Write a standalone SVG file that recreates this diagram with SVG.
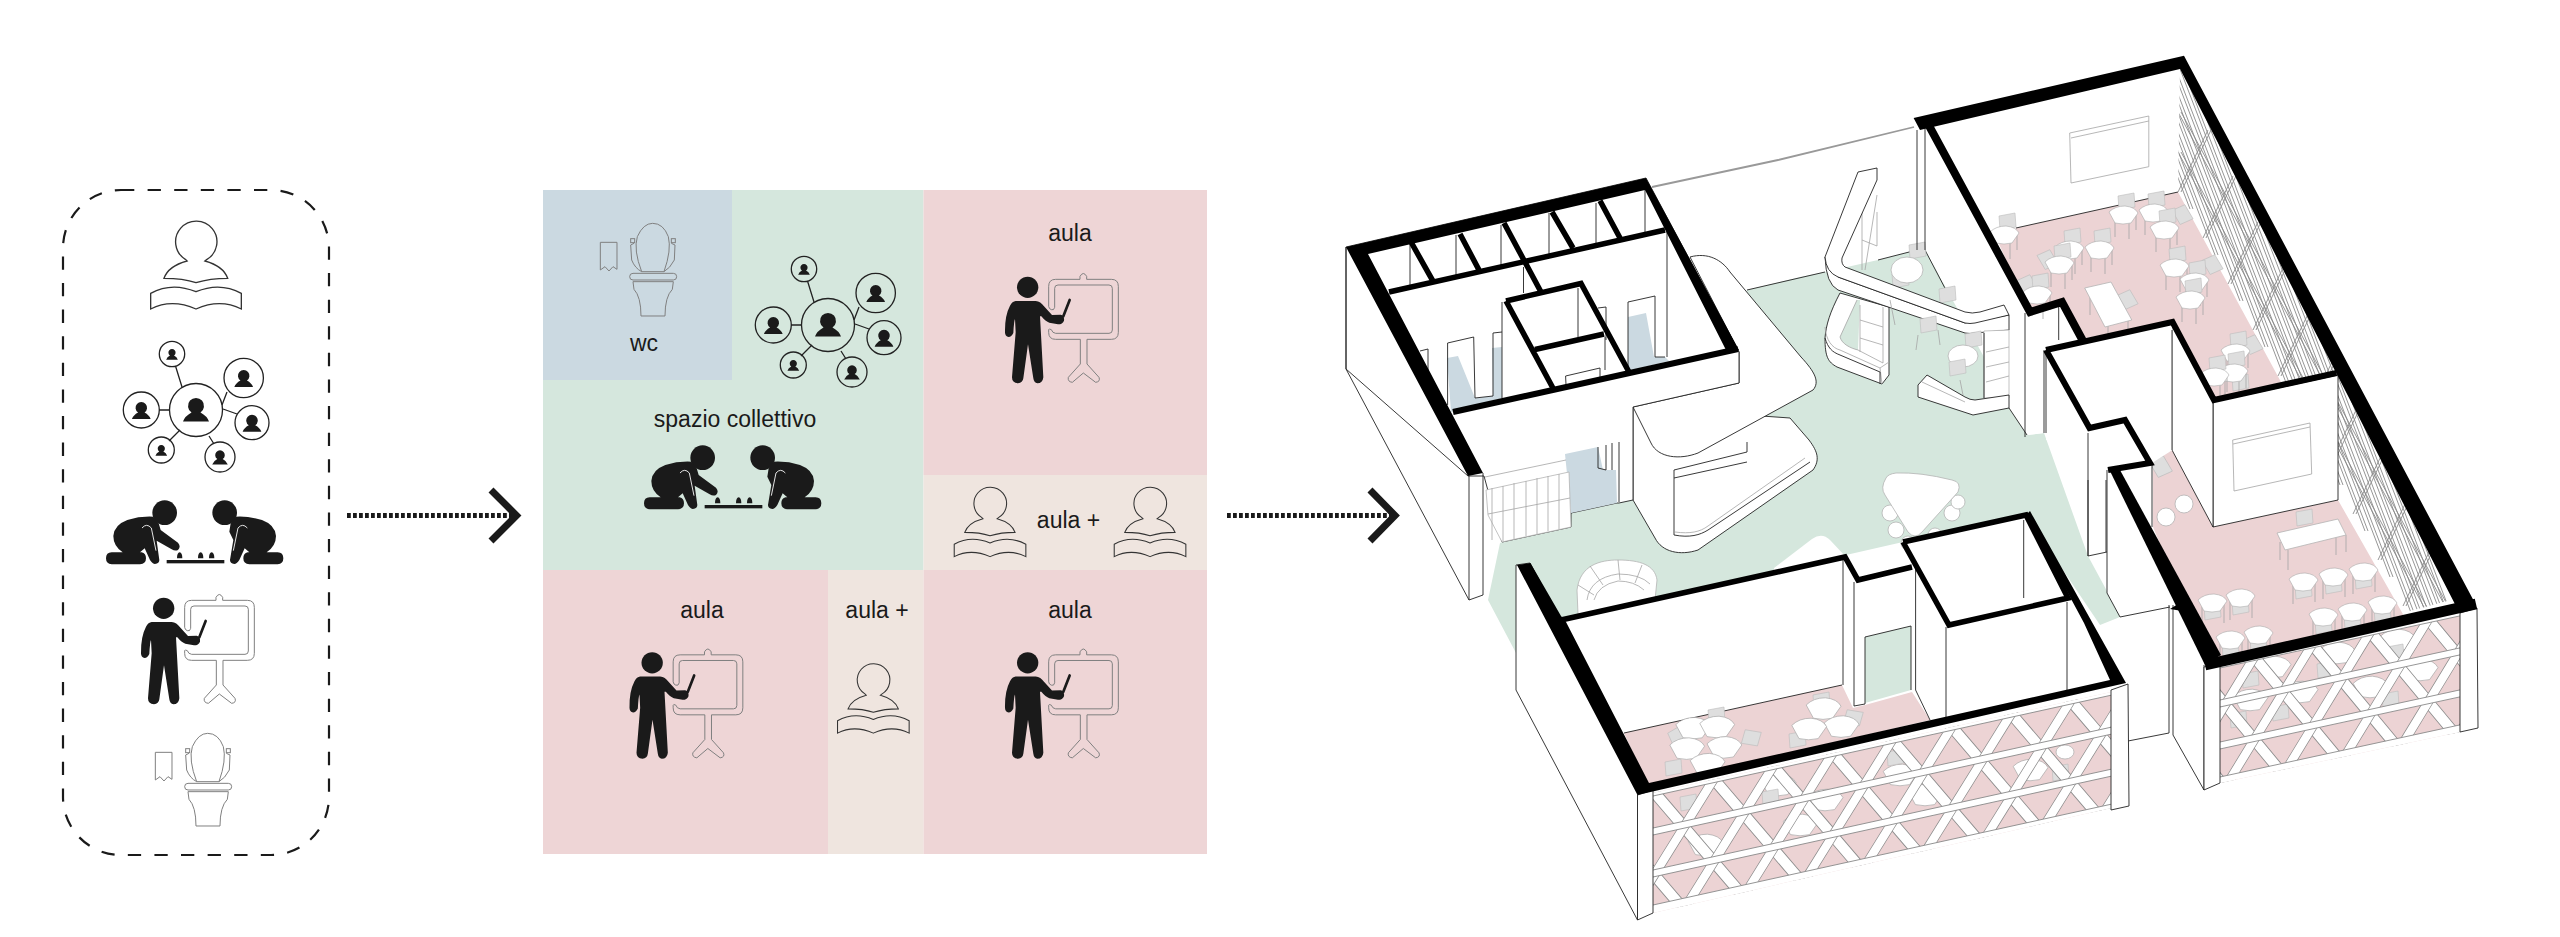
<svg xmlns="http://www.w3.org/2000/svg" width="2560" height="937" viewBox="0 0 2560 937">
<style>
text{font-family:"Liberation Sans",Arial,sans-serif;font-size:23px;fill:#1a1a1a;text-anchor:middle}
.l{fill:none;stroke:#222;stroke-width:.9}
.lf{fill:#fff;stroke:#222;stroke-width:.9}
.g{fill:none;stroke:#a4a4a4;stroke-width:.8}
.gf{fill:#fff;stroke:#b4b4b4;stroke-width:.8}
.k{fill:none;stroke:#000;stroke-linejoin:miter}
.kf{fill:#000}
.p{fill:#ecd3d4}
.gr{fill:#d5e7dd}
.b{fill:#cbd9e1}
.ic{fill:none;stroke:#333;stroke-width:4}
.icg{fill:none;stroke:#808080;stroke-width:3}
.net{fill:none;stroke:#222;stroke-width:1.3}
.sk{fill:none;stroke:#8e8e8e;stroke-width:10.800}
.sw{fill:none;stroke:#fff;stroke-width:9.200}
.rail{fill:#fff;stroke:#8e8e8e;stroke-width:.9}
.wl{fill:none;stroke:#8a8a8a;stroke-width:.9}
</style>
<defs>
<clipPath id="cf1"><polygon points="1653,793 2111,692 2111,808 1653,913"/></clipPath>
<clipPath id="cf2"><polygon points="2220,665 2460,613 2460,732 2220,783"/></clipPath>
<clipPath id="cw"><polygon points="2180,69 2178,192 2403,613 2458,598"/></clipPath>
<path id="latA" d="M-121,-5l93.6,130M-61.500,-5l93.6,130M-2,-5l93.6,130M57.500,-5l93.6,130M117,-5l93.6,130M176.500,-5l93.6,130M236,-5l93.6,130M295.500,-5l93.6,130M355,-5l93.6,130M414.500,-5l93.6,130"/>
<path id="latB" d="M64,-5l-93.6,130M123.500,-5l-93.6,130M183,-5l-93.6,130M242.500,-5l-93.6,130M302,-5l-93.6,130M361.500,-5l-93.6,130M421,-5l-93.6,130M480.500,-5l-93.6,130M540,-5l-93.6,130"/>
<g id="lattice"><use href="#latA" class="sk"/><use href="#latA" class="sw"/><use href="#latB" class="sk"/><use href="#latB" class="sw"/>
<rect class="rail" x="-60" y="-2" width="600" height="5"/><rect class="rail" x="-60" y="35" width="600" height="7"/><rect class="rail" x="-60" y="77" width="600" height="7"/><rect class="rail" x="-60" y="112" width="600" height="10"/></g>
<path id="cr" d="M-8,-8L8,-11L9,3L-7,6Z" fill="#dedede" stroke="#bcbcbc" stroke-width=".6"/>
<path id="bl" d="M-14,-3Q-8,-9 2,-9Q12,-8 15,-2L8,8Q0,10-8,8Z" fill="#fff" stroke="#aaa" stroke-width=".6"/>
<g id="st"><use href="#cr" x="3" y="-11"/><path class="g" d="M-8,6v16M6,6v18M13,0v15"/><use href="#bl"/></g>
<g id="sb"><path class="g" d="M-10,4v18M12,2v18"/><use href="#cr" y="11"/><use href="#bl"/></g>
<path id="pn" fill="#1a1a1a" d="M-13,12.500Q-11,7-4.500,3.500A8,8 0 1 1 4.500,3.500Q11,7 13,12.500Z"/>

<g id="reader" transform="translate(40,170) scale(.33333)">
<path class="ic" d="M436,268A62,62 0 1 1 500,269L495,273Q550,288 563,325Q510,325 468,338Q430,325 372,325Q385,288 441,273Z"/>
<path class="ic" d="M332,370Q395,335 468,365Q540,335 604,370L604,417Q540,385 468,417Q395,385 332,417Z"/>
</g>
<g id="network">
<path class="net" d="M175.500,366L182,387M222,405L227,392M223,409L237,414M209,436L214,444M180,430L169,441M169.500,410L159,410"/>
<circle class="net" cx="196" cy="410" r="26.500"/><circle class="net" cx="172" cy="354" r="12.700"/><circle class="net" cx="243.700" cy="378" r="19.700"/><circle class="net" cx="252" cy="422.700" r="17"/><circle class="net" cx="220" cy="457" r="15"/><circle class="net" cx="161.300" cy="450" r="13"/><circle class="net" cx="141.300" cy="410" r="18"/>
<use href="#pn" transform="translate(196,409)"/>
<use href="#pn" transform="translate(172,354) scale(.45)"/>
<use href="#pn" transform="translate(243.700,378) scale(.72)"/>
<use href="#pn" transform="translate(252,422.700) scale(.72)"/>
<use href="#pn" transform="translate(220,457) scale(.6)"/>
<use href="#pn" transform="translate(161.300,450) scale(.45)"/>
<use href="#pn" transform="translate(141.300,410) scale(.72)"/>
</g>
<g id="players" transform="translate(40,520) scale(.33333)" fill="#1a1a1a">
<circle cx="374" cy="-22" r="37"/><circle cx="554" cy="-22" r="37"/>
<path d="M220,48Q222,15 262,0Q300,-12 340,-10L356,10L362,30L414,68Q424,80 414,90Q405,94 395,88L350,62L358,120Q358,130 345,132Q338,132 330,120L314,85L300,97L305,97Q318,100 318,115Q318,132 300,133L215,133Q198,132 198,115Q198,97 215,97L248,97Q220,78 220,48Z"/>
<path transform="translate(928,0) scale(-1,1)" d="M220,48Q222,15 262,0Q300,-12 340,-10L356,10L360,35L348,60L358,120Q358,130 345,132Q338,132 330,120L314,85L300,97L305,97Q318,100 318,115Q318,132 300,133L215,133Q198,132 198,115Q198,97 215,97L248,97Q220,78 220,48Z"/>
<path d="M306,24Q320,8 334,24L348,92" fill="none" stroke="#e4e4e4" stroke-width="3"/>
<path d="M622,24Q608,8 594,24L580,92" fill="none" stroke="#e4e4e4" stroke-width="3"/>
<rect x="380" y="120" width="173" height="10"/>
<path d="M411,115Q411,98 419,97Q427,98 427,115ZM474,115Q474,98 482,97Q490,98 490,115ZM507,115Q507,98 515,97Q523,98 523,115Z"/>
</g>
<g id="teacher" transform="translate(40,520) scale(.33333)">
<path class="icg" d="M434,322L434,262Q434,241 455,241L528,241L528,232Q538,215 548,232L548,241L622,241Q643,241 643,262L643,400Q643,421 622,421L549,421L549,495L585,535Q590,548 575,550L538,522L505,550Q490,548 493,535L529,495L529,421L455,421Q434,421 434,400L434,392Q434,388 442,392Q445,402 455,403L615,403Q625,403 625,393L625,268Q625,258 615,258L462,258Q452,258 452,268L452,325Q450,335 442,332Q435,330 434,322Z"/>
<circle cx="371" cy="265" r="32" fill="#1a1a1a"/>
<path fill="#1a1a1a" d="M335,306L395,306Q410,307 420,322L444,348L470,347Q482,350 480,365Q476,376 462,376L436,371Q425,368 412,352L408,352L418,535Q416,553 400,553Q390,552 388,538L372,436L358,538Q356,552 342,553Q324,552 324,535L335,400L333,360Q330,365 328,402Q322,414 314,414Q303,412 303,400Q302,350 318,320Q325,307 335,306Z"/>
<path d="M478,352L497,303" stroke="#1a1a1a" stroke-width="8" stroke-linecap="round"/>
</g>
<g id="wcicon" transform="translate(40,520) scale(.33333)">
<path class="icg" d="M346,697L396,697L396,778L384,770L372,783L360,770L346,780Z"/>
<path class="icg" d="M470,785Q445,720 457,680Q475,640 503,640Q535,640 550,680Q560,720 537,785Z"/>
<path class="icg" d="M447,700L437,705L440,750Q450,775 470,785M559,700L570,705L568,750Q555,775 537,785"/>
<rect class="icg" x="437" y="686" width="12" height="12"/><rect class="icg" x="559" y="686" width="12" height="12"/>
<rect class="icg" x="434" y="790" width="141" height="20" rx="10"/>
<path class="icg" d="M444,815L565,815L562,838Q540,860 540,918L468,918Q468,860 447,838Z"/>
</g>
</defs>

<g id="legend">
<rect x="63" y="190" width="266" height="665" rx="58" fill="none" stroke="#1a1a1a" stroke-width="2.200" stroke-dasharray="13.300 13.300"/>
<use href="#reader"/><use href="#network"/><use href="#players"/><use href="#teacher"/><use href="#wcicon"/>
</g>

<g id="scheme">
<g id="panel-wc"><rect class="b" x="543" y="190" width="189" height="190"/></g>
<g id="panel-collettivo"><path class="gr" d="M732,190H923.500V570H543V380H732Z"/></g>
<g id="panel-aula-top"><rect x="923.500" y="190" width="283.500" height="285" fill="#eed5d6"/></g>
<g id="panel-aulaplus-right"><rect x="923.500" y="475" width="283.500" height="95" fill="#efe5df"/></g>
<g id="panel-aula-bl"><rect x="543" y="570" width="285" height="284" fill="#eed5d6"/></g>
<g id="panel-aulaplus-bottom"><rect x="828" y="570" width="95.500" height="284" fill="#efe5df"/></g>
<g id="panel-aula-br"><rect x="923.500" y="570" width="283.500" height="284" fill="#eed5d6"/></g>
<use href="#wcicon" transform="translate(445,-510)"/>
<use href="#network" transform="translate(632,-85)"/>
<use href="#players" transform="translate(538,-55)"/>
<use href="#teacher" transform="translate(864,-321)"/>
<use href="#teacher" transform="translate(864,54.500)"/>
<use href="#teacher" transform="translate(488.500,54.500)"/>
<use href="#reader" transform="translate(835.200,312.500) scale(.79)"/>
<use href="#reader" transform="translate(995.200,312.500) scale(.79)"/>
<use href="#reader" transform="translate(718.500,489) scale(.79)"/>
<text x="644" y="351">wc</text>
<text x="735" y="427">spazio collettivo</text>
<text x="1070" y="241">aula</text>
<text x="1068.500" y="528">aula +</text>
<text x="702" y="618">aula</text>
<text x="877" y="618">aula +</text>
<text x="1070" y="618">aula</text>
</g>

<g id="connectors">
<path d="M347,515.500H514" fill="none" stroke="#1a1a1a" stroke-width="5" stroke-dasharray="3.800 2.200"/>
<path d="M491,490L516.500,515.500L491,541" fill="none" stroke="#1a1a1a" stroke-width="7"/>
<path d="M1227,515.500H1394" fill="none" stroke="#1a1a1a" stroke-width="5" stroke-dasharray="3.800 2.200"/>
<path d="M1370,490L1395,515.500L1370,541" fill="none" stroke="#1a1a1a" stroke-width="7"/>
</g>

<g id="axonometric">
<polygon class="gr" points="1747,290 1800,277 1825,272 1878,260 1917,250 1925,250 2027,435 2044,433 2088,556 2107,552 2107,593 2120,617 2100,625 2026,515 1903,542 1561,620 1516,653 1488,600 1500,543 1571,513 1640,498"/>
<path d="M1652,187L1778,160L1914,127" fill="none" stroke="#999" stroke-width="1.800"/>
<path class="l" d="M1747,290L1825,272M1878,260L1917,250"/>
<polygon points="1925,250 1965,312 2009,305 2009,408 2027,435 2044,433 2044,350 2028,310 1927,125" fill="#fff"/>
<path class="l" d="M1925,250L1947,292M2009,408L2027,435"/>

<g id="pod">
<path class="lf" d="M1790,418L1809,440C1818,452 1820,460 1813,470L1698,550C1680,556 1662,552 1655,538L1633,500V407Z"/>
<path class="lf" d="M1690,257C1708,252 1722,260 1730,272L1801,357C1815,372 1820,382 1813,390L1698,453C1680,460 1658,458 1651,443L1633,407L1739,383V352Z"/>
<path class="l" d="M1674,470V535M1674,470L1747,452V442M1674,478L1747,462M1674,535C1690,538 1700,535 1708,530L1810,462"/>
<path class="g" d="M1675,532C1690,534 1700,532 1708,526L1805,458"/>
</g>

<g id="wc-block">
<polygon class="lf" points="1346,247 1646,178 1739,352 1739,383 1633,407 1633,500 1619,503 1617,503 1571,513 1571,527 1502,542 1484,476 1468,476 1346,369"/>
<polygon class="b" points="1565,454 1598,447 1603,470 1616,470 1617,503 1571,513"/>
<path class="l" d="M1619,442V502M1598,447V468L1606,470V445M1612,443V470"/>
<polygon class="gf" points="1486,490 1569,472 1571,527 1502,542 1488,515"/>
<path class="g" d="M1485,477L1566,460M1492,488V540M1503,486V541M1514,483V539M1526,481V536M1537,478V534M1548,476V531M1559,474V529M1488,514L1570,498"/>
<polygon class="b" points="1447,358 1458,356 1475,398 1493,396 1492,348 1502,347 1502,398 1451,412"/>
<polygon class="b" points="1628,317 1646,313 1654,357 1665,357 1669,361 1628,371"/>
<path class="l" d="M1410,243V288M1456,235V275M1501,225V267M1549,213V255M1596,203V243M1645,190V232M1667,232V357M1523.500,267V293M1502,302V398M1578,288V337M1605,337V370M1447.600,343L1473.700,337L1475,398L1493,396V333L1502,332M1447.600,343V405M1420,351L1428,349V370M1628,302L1655,296V357L1665,357M1628,302V371M1598,308L1606,307V340M1565.600,376L1600,368V378L1566,385Z"/>
<path class="l" d="M1346,247V369L1469,600L1483,595V473M1469,476V600"/>
<path class="k" stroke-width="5.500" d="M1389,292L1665,230M1411.600,243L1432.700,280.700M1460,234L1479,270M1504,223L1541,292M1552,212L1573,248M1600,200.700L1620,238M1506,301L1581,283.500L1629,372M1554,390L1506,301M1535,349.500L1604,334"/>
<path class="k" stroke-width="6" d="M1453,412L1738,349"/>
<polygon class="kf" points="1346,247 1646,178 1739,350 1727,352 1645,190 1368,254 1483,473 1468,476"/>
</g>

<g id="stair">
<use href="#cr" transform="translate(1917,253)"/><use href="#cr" transform="translate(1947,297)"/><use href="#cr" transform="translate(1900,282)"/>
<ellipse cx="1907" cy="270" rx="16" ry="13" class="gf"/>
<path class="lf" d="M1825,338C1826,325 1830,312 1840,293L1889,307V375L1882,384L1837,367C1828,362 1825,357 1825,338Z"/>
<path class="gr" d="M1857,300L1840,337C1842,344 1850,348 1858,350L1860,300Z"/>
<path class="g" d="M1857,300L1840,337C1842,344 1850,348 1858,350L1883,363V307M1860,305V352M1860,320L1883,327M1860,338L1883,345M1825,327C1826,340 1832,348 1840,350L1880,368L1882,384M1880,368L1889,362"/>
<path class="l" d="M1825,338C1828,348 1832,352 1840,355L1880,372V384"/>
<path class="g" d="M1862,185L1862,270M1877,195L1865,270M1862,240L1877,246V212"/>
<path class="lf" d="M2009,315V330L1975,333Q1970,334 1965,333L1838,290Q1826,284 1825,257L1838,277L1965,323L2009,315Z"/>
<path class="lf" d="M1858,172L1877,168V180L1842,258Q1841,264 1845,267L1965,312Q1972,314 1980,312L2004,305L2009,315L1975,323Q1970,324 1965,323L1838,277Q1826,272 1825,257Z"/>
<use href="#cr" transform="translate(1928,327)"/><path class="g" d="M1918,335L1916,350M1938,330L1940,345M1890,300L1895,325M1960,380L1963,395"/>
<use href="#cr" transform="translate(1973,342)"/>
<path class="gf" d="M1984,331V398H2009V330Z"/>
<path class="g" d="M1986,352L2009,347M1986,367L2009,362M1986,382L2009,376"/>
<path class="l" d="M1984,333V398"/>
<ellipse cx="1963" cy="356" rx="15" ry="11" class="gf"/>
<use href="#cr" transform="translate(1957,370)"/>
<path class="lf" d="M1927,375L1965,397Q1970,400 1975,400L2009,395V408L1973,415L1918,397V385Z"/>
<path class="g" d="M1922,382L1965,402"/>
</g>
<path class="l" d="M1917,130V250M1925,125V250M2025,313V437M2044,350V433M2058.700,307V340"/>

<g id="furniture-centre">
<circle class="gf" cx="1890" cy="513" r="8"/><circle class="gf" cx="1896" cy="530" r="8"/><circle class="gf" cx="1908" cy="543" r="7"/><circle class="gf" cx="1952" cy="513" r="8"/><circle class="gf" cx="1958" cy="502" r="7"/><circle class="gf" cx="1935" cy="535" r="7"/>
<path class="gf" d="M1886,478Q1880,488 1885,495L1908,532Q1915,540 1922,532L1958,492Q1962,482 1952,480Q1920,472 1896,473Q1888,474 1886,478Z"/>
<path d="M1774,568L1812,539Q1822,532 1830,540L1845,556L1774,575Z" fill="#fff"/>
<path class="gf" d="M1577,590C1580,565 1600,560 1618,560C1640,560 1655,565 1657,580L1655,600L1590,614L1578,614Z"/>
<path class="g" d="M1587,600Q1590,578 1618,574Q1640,574 1650,584M1594,600Q1598,585 1618,581Q1634,581 1644,590M1578,585L1594,595M1590,566L1603,585M1618,560L1620,580M1642,565L1635,583"/>
</g>

<g id="room-upper">
<polygon class="p" points="2016,228 2178,192 2281,382 2216,400 2172,323 2085.500,338 2062,302 2028,310 1998.600,243"/>
<path class="l" d="M2016,228L2178,192"/>
<g clip-path="url(#cw)">
<path id="wl" class="wl" d="M2030,-207l160,416M2055,-161l160,416M2080,-115l160,416M2105,-69l160,416M2130,-23l160,416M2155,23l160,416M2180,69l160,416M2205,115l160,416M2230,161l160,416M2255,207l160,416M2280,253l160,416M2305,299l160,416M2330,345l160,416M2355,391l160,416M2380,437l160,416M2178,192l30,-62M2203,238l30,-62M2228,284l30,-62M2253,330l30,-62M2278,376l30,-62M2303,422l30,-62M2328,468l30,-62M2353,514l30,-62M2378,560l30,-62M2403,606l30,-62M2178,152L2458,670M2178,112L2458,630"/>
<use href="#wl" x="3" y="0"/>
</g>
<path class="g" d="M2069.700,133L2148.800,116V166.700L2071,183ZM2071,138L2148.800,121"/>
<use href="#cr" transform="translate(2180,215) rotate(70)"/><use href="#cr" transform="translate(2210,265) rotate(70)"/><use href="#cr" transform="translate(2250,345) rotate(70)"/><use href="#cr" transform="translate(2240,385)"/><use href="#cr" transform="translate(2125,300) rotate(70)"/><use href="#cr" transform="translate(2045,260) rotate(70)"/><use href="#cr" transform="translate(2025,285) rotate(70)"/>
<use href="#st" x="2004" y="235"/><use href="#st" x="2069" y="250"/><use href="#st" x="2099" y="250"/><use href="#st" x="2059" y="265"/><use href="#st" x="2123" y="215"/><use href="#st" x="2153" y="213"/><use href="#st" x="2164" y="230"/><use href="#st" x="2174" y="268"/><use href="#st" x="2194" y="282"/><use href="#st" x="2190" y="300"/><use href="#st" x="2235" y="353"/><use href="#st" x="2233" y="373"/><use href="#st" x="2214" y="377"/><use href="#st" x="2037" y="295"/>
<path class="g" d="M2090,295V315M2128,318V335M2108,325V340"/>
<polygon class="gf" points="2084.700,288 2111,282 2131.800,320 2105,327"/>
</g>

<g id="room-lower">
<polygon class="p" points="2153,463 2160,452 2172,450 2213,527 2338,500 2412,630 2212,670 2153,527"/>
<polygon class="lf" points="2213,402 2338,375 2338,500 2213,527"/>
<polygon class="lf" points="2172,323 2213,402 2213,527 2172,450"/>
<path class="g" d="M2232.700,440L2310,423L2311.700,474L2234,491ZM2233,444L2310,427"/>
<use href="#cr" transform="translate(2158,467) rotate(70) scale(1.1)"/>
<circle class="gf" cx="2166" cy="517" r="9"/><circle class="gf" cx="2184" cy="504" r="9"/>
<use href="#cr" transform="translate(2304,520)"/>
<path class="g" d="M2280,542V560M2288,550V570M2336,535V555M2346,535V552"/>
<polygon class="gf" points="2277,533 2338,519 2346,535 2285,550"/>
<use href="#sb" x="2303" y="582"/><use href="#sb" x="2333" y="577"/><use href="#sb" x="2363" y="572"/><use href="#sb" x="2323" y="617"/><use href="#sb" x="2352" y="612"/><use href="#sb" x="2382" y="605"/><use href="#sb" x="2212" y="603"/><use href="#sb" x="2240" y="598"/><use href="#sb" x="2230" y="640"/><use href="#sb" x="2258" y="635"/>
</g>

<g id="walls-right">
<path d="M2046,350L2172.500,322V450L2152,463V527L2108,540V593L2088,556V433L2046,440Z" fill="#fff"/>
<path class="l" d="M2046,350V433M2088,433V556L2107,552M2107,470V593L2120,617L2170,607M2172,330V450M2169,605V733L2128,741M2173,605V735L2204,790M2204,665V790"/>
<path class="l" d="M2152,527V463"/>
<path class="k" stroke-width="6" d="M2046,350L2172.500,322L2214,400L2336.500,373M2046,350L2089.500,428L2125,420L2150,463L2108,470"/>
<path class="kf" d="M2108,467L2120,470L2221,655L2205,665Z"/>
<path class="kf" d="M2170,609L2178,604L2182,611Z"/>
<path class="k" stroke-width="8" d="M1927,122L2030,312L2062,302L2083,341"/>
<polygon class="kf" points="1913.600,118 2184,55.700 2476,605 2458,610 2180,69 1920,130"/>
</g>

<g id="facade-right">
<polygon class="p" points="2220,665 2460,613 2460,732 2220,783"/>
<use href="#bl" transform="translate(2273,667) scale(1.2)"/><use href="#bl" transform="translate(2337,653) scale(1.2)"/><use href="#bl" transform="translate(2397,640) scale(1.2)"/><use href="#bl" transform="translate(2250,700) scale(1.2)"/><use href="#bl" transform="translate(2300,692) scale(1.2)"/><use href="#bl" transform="translate(2370,687) scale(1.2)"/><use href="#bl" transform="translate(2420,670) scale(1.2)"/>
<use href="#cr" transform="translate(2250,682)"/><use href="#cr" transform="translate(2325,672)"/><use href="#cr" transform="translate(2395,655)"/><use href="#cr" transform="translate(2238,722)"/><use href="#cr" transform="translate(2280,715)"/><use href="#cr" transform="translate(2390,702)"/>
<g clip-path="url(#cf2)"><use href="#lattice" transform="matrix(.975,-.2116,0,1,2195,670.400)"/></g>
<polygon class="lf" points="2460,613 2477,608 2478,728 2460,732"/>
<polygon class="lf" points="2204,667 2220,663 2220,783 2204,790"/>
<path class="k" stroke-width="11" d="M2205,665L2476,604"/>
</g>

<g id="room-left">
<polygon class="lf" points="1516,565 1530,563 1648,784 1637.500,795 1637.500,920 1516,690"/>
<polygon points="1561,620 1845,556 1858,580 1912,567 1903,542 2026,515 2126,683 1648,784" fill="#fff"/>
<polygon class="p" points="1624,733 1842,685 1853,708 1865,705 1912,692 1930,720 1648,786"/>
<polygon class="gr" points="1865,637 1911,626 1911,690 1865,703"/>
<path class="l" d="M1624,733L1842,685M1843,560V685M1854,582V706L1865,704V637L1911,626V690M1915.600,567V690L1930,720M1946,627V718M2023.700,520V598M2067,602V690M2088,480V556M2106,480V552"/>
<use href="#cr" transform="translate(1678,738) rotate(-20)"/><use href="#cr" transform="translate(1716,718)"/><use href="#cr" transform="translate(1750,740) rotate(20)"/><use href="#cr" transform="translate(1673,770)"/>
<use href="#cr" transform="translate(1821,703)"/><use href="#cr" transform="translate(1852,720) rotate(20)"/><use href="#cr" transform="translate(1797,742)"/>
<g transform="translate(1707,745) scale(1.2)"><use href="#bl" x="-12" y="-14"/><use href="#bl" x="8" y="-15"/><use href="#bl" x="14" y="2"/><use href="#bl" x="-17" y="3"/><use href="#bl" x="0" y="16"/></g>
<g transform="translate(1823,723) scale(1.2)"><use href="#bl" x="0" y="-12"/><use href="#bl" x="15" y="3"/><use href="#bl" x="-12" y="5"/></g>
</g>

<g id="facade-left">
<polygon class="p" points="1653,793 2111,692 2111,808 1653,913"/>
<use href="#bl" transform="translate(1778,785) scale(1.2)"/><use href="#bl" transform="translate(1825,800) scale(1.2)"/><use href="#bl" transform="translate(1705,845) scale(1.2)"/><use href="#bl" transform="translate(1800,825) scale(1.2)"/><use href="#bl" transform="translate(1900,775) scale(1.2)"/><use href="#bl" transform="translate(1925,795) scale(1.2)"/><use href="#bl" transform="translate(2030,770) scale(1.2)"/>
<use href="#cr" transform="translate(1688,805)"/><use href="#cr" transform="translate(1770,800)"/><use href="#cr" transform="translate(1895,760)"/><use href="#cr" transform="translate(2060,775)"/>
<ellipse class="gf" cx="2065" cy="752" rx="9" ry="7"/>
<g clip-path="url(#cf1)"><use href="#lattice" transform="matrix(1,-.22,0,1,1653,793)"/></g>
<polygon class="lf" points="2111,690 2128,684 2129,806 2111,810"/>
<polygon class="lf" points="1637.500,795 1653,790 1653,913 1637.500,920"/>
<path class="k" stroke-width="5.500" d="M1561,620L1845,557L1858,580L1912,567M1903,542L2026,515L2068,598L1949,625L1903,542"/>
<polygon class="kf" points="1517,565 1530.400,563 1561,616 1566,622 1649,783 2110,680 2084,623 2026,515 2030,511 2126,683 1637.500,795"/>
</g>
</g>
</svg>
